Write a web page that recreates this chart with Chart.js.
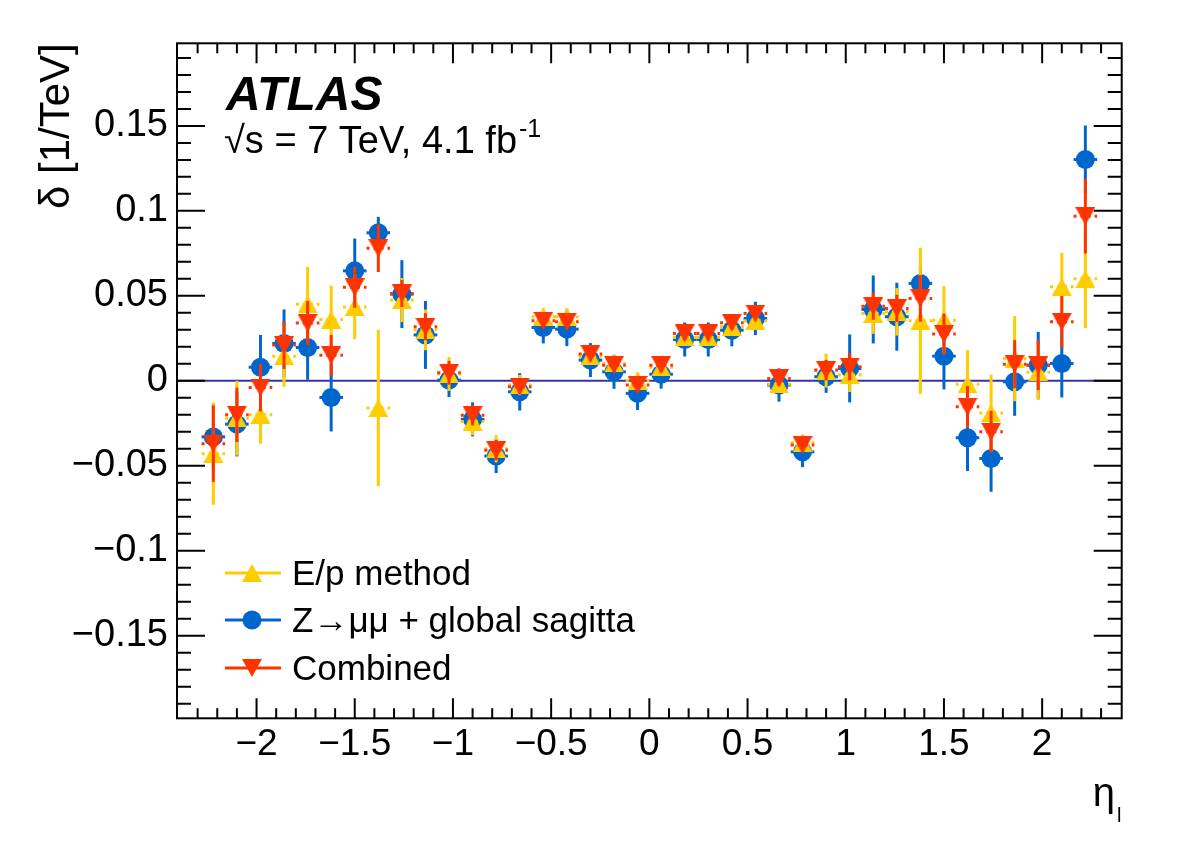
<!DOCTYPE html>
<html>
<head>
<meta charset="utf-8">
<script src="https://cdn.jsdelivr.net/npm/chart.js@4.4.1/dist/chart.umd.min.js"></script>
<style>
  html, body { margin: 0; padding: 0; background: #fff; }
  #wrap { width: 1182px; height: 846px; position: relative; }
</style>
</head>
<body>
<div id="wrap"><canvas id="c" width="1182" height="846"></canvas></div>
<script>
// ---------------- data ----------------
const etaCenters = [-2.22,-2.10,-1.98,-1.86,-1.74,-1.62,-1.50,-1.38,-1.26,-1.14,-1.02,-0.90,-0.78,-0.66,-0.54,-0.42,-0.30,-0.18,-0.06,
                     0.06,0.18,0.30,0.42,0.54,0.66,0.78,0.90,1.02,1.14,1.26,1.38,1.50,1.62,1.74,1.86,1.98,2.10,2.22];
const binHalfWidth = 0.06;

const epValues = [-0.043,-0.022,-0.020,0.0145,0.045,0.036,0.0435,-0.016,0.0475,0.030,0.004,-0.024,-0.040,-0.0025,0.0377,0.0377,0.0145,0.0102,0.000,
                  0.0079,0.0255,0.0255,0.0318,0.0353,-0.002,-0.0365,0.006,0.0034,0.0396,0.0406,0.0353,0.0357,-0.002,-0.019,0.013,0.005,0.0553,0.060];
const epErrors = [0.030,0.022,0.017,0.018,0.022,0.020,0.019,0.046,0.013,0.012,0.010,0.008,0.008,0.006,0.005,0.005,0.005,0.005,0.005,
                  0.005,0.005,0.005,0.005,0.005,0.005,0.005,0.010,0.010,0.012,0.014,0.043,0.020,0.020,0.0226,0.025,0.0163,0.020,0.029];

const zValues = [-0.033,-0.0255,0.008,0.022,0.0196,-0.0098,0.0647,0.0871,0.051,0.027,0.0004,-0.0227,-0.0443,-0.0065,0.0314,0.0304,0.0122,0.0053,-0.0074,
                 0.0039,0.0243,0.0243,0.0298,0.0367,-0.0025,-0.0418,0.0024,0.0073,0.042,0.0377,0.0573,0.0145,-0.0335,-0.0457,-0.0006,0.0092,0.0102,0.1302];
const zErrors = [0.020,0.019,0.019,0.020,0.019,0.020,0.019,0.0094,0.020,0.020,0.010,0.010,0.010,0.011,0.0094,0.010,0.010,0.010,0.0098,
                 0.0085,0.010,0.010,0.0095,0.0098,0.0098,0.009,0.0095,0.020,0.020,0.020,0.010,0.0196,0.0196,0.0196,0.020,0.0196,0.020,0.020];

const combValues = [-0.037,-0.020,-0.004,0.021,0.034,0.015,0.055,0.078,0.0514,0.0318,0.0047,-0.0202,-0.0408,-0.0035,0.0353,0.0347,0.0157,0.0092,-0.0025,
                    0.0092,0.0279,0.0279,0.0341,0.0396,0.0014,-0.0378,0.0063,0.0082,0.0439,0.0426,0.0485,0.0275,-0.0153,-0.030,0.0098,0.0092,0.0347,0.0969];
const combErrors = [0.0225,0.016,0.014,0.014,0.013,0.012,0.012,0.014,0.008,0.008,0.007,0.006,0.006,0.004,0.004,0.004,0.004,0.004,0.004,
                    0.004,0.004,0.004,0.004,0.004,0.004,0.004,0.006,0.008,0.008,0.008,0.0137,0.012,0.0123,0.0123,0.0142,0.0147,0.0152,0.022];

const xTickValues = [-2,-1.5,-1,-0.5,0,0.5,1,1.5,2];
const xTickLabels = ['\u22122','\u22121.5','\u22121','\u22120.5','0','0.5','1','1.5','2'];
const yTickValues = [-0.15,-0.1,-0.05,0,0.05,0.1,0.15];
const yTickLabels = ['\u22120.15','\u22120.1','\u22120.05','0','0.05','0.1','0.15'];

const seriesNames = ['E/p method', 'Z\u2192\u03bc\u03bc + global sagitta', 'Combined'];
const colYellow = '#ffcc00', colBlue = '#0066cc', colRed = '#ff3300';
const FONT = "'Liberation Sans', Arial, Helvetica, sans-serif";

// ---------------- marker images ----------------
function triCanvas(color, down, w, h) {
  const c = document.createElement('canvas'); c.width = w; c.height = h;
  const g = c.getContext('2d'); g.fillStyle = color; g.beginPath();
  if (!down) { g.moveTo(w / 2, 0); g.lineTo(w, h); g.lineTo(0, h); }
  else { g.moveTo(0, 0); g.lineTo(w, 0); g.lineTo(w / 2, h); }
  g.closePath(); g.fill(); return c;
}
const triUp = triCanvas(colYellow, false, 20, 18);
const triDown = triCanvas(colRed, true, 20, 18);

function pts(vals) { return etaCenters.map((x, i) => ({x: x, y: vals[i]})); }

const errInfo = [
  {errs: epErrors, color: colYellow, dash: [3, 4]},
  {errs: zErrors, color: colBlue, dash: []},
  {errs: combErrors, color: colRed, dash: [3, 4]}
];

// ---------------- plugins ----------------
const errorBars = {
  id: 'errorBars',
  beforeDatasetsDraw(chart) {
    const {ctx, chartArea, scales: {x, y}} = chart;
    ctx.save();
    ctx.strokeStyle = 'rgb(52,52,170)';
    ctx.lineWidth = 2;
    const py = y.getPixelForValue(0);
    ctx.beginPath(); ctx.moveTo(chartArea.left, py); ctx.lineTo(chartArea.right, py); ctx.stroke();
    ctx.restore();
  },
  beforeDatasetDraw(chart, args) {
    const idx = args.index;
    const info = errInfo[idx];
    const ds = chart.data.datasets[idx];
    const {ctx, scales: {x, y}} = chart;
    ctx.save();
    ctx.strokeStyle = info.color;
    ctx.lineWidth = 3;
    ctx.lineCap = 'butt';
    ds.data.forEach((p, i) => {
      const e = info.errs[i];
      const px = x.getPixelForValue(p.x);
      ctx.setLineDash([]);
      ctx.beginPath();
      ctx.moveTo(px, y.getPixelForValue(p.y + e));
      ctx.lineTo(px, y.getPixelForValue(p.y - e));
      ctx.stroke();
      ctx.setLineDash(info.dash);
      const py = y.getPixelForValue(p.y);
      ctx.beginPath();
      ctx.moveTo(x.getPixelForValue(p.x - binHalfWidth), py);
      ctx.lineTo(x.getPixelForValue(p.x + binHalfWidth), py);
      ctx.stroke();
    });
    ctx.restore();
  }
};

const frameAndText = {
  id: 'frameAndText',
  afterDraw(chart) {
    const {ctx, chartArea: a, scales: {x, y}} = chart;
    ctx.save();
    // frame
    ctx.strokeStyle = '#000'; ctx.lineWidth = 2; ctx.setLineDash([]);
    ctx.strokeRect(a.left, a.top, a.right - a.left, a.bottom - a.top);
    // ticks on all four sides
    const xMajLen = 20, xMinLen = 10, yMajLen = 28, yMinLen = 14;
    ctx.beginPath();
    for (let k = -24; k <= 24; k++) {
      const px = x.getPixelForValue(k / 10);
      if (px < a.left + 1 || px > a.right - 1) continue;
      const len = (k % 5 === 0) ? xMajLen : xMinLen;
      ctx.moveTo(px, a.bottom); ctx.lineTo(px, a.bottom - len);
      ctx.moveTo(px, a.top); ctx.lineTo(px, a.top + len);
    }
    for (let k = -19; k <= 19; k++) {
      const py = y.getPixelForValue(k / 100);
      if (py < a.top + 1 || py > a.bottom - 1) continue;
      const len = (k % 5 === 0) ? yMajLen : yMinLen;
      ctx.moveTo(a.left, py); ctx.lineTo(a.left + len, py);
      ctx.moveTo(a.right, py); ctx.lineTo(a.right - len, py);
    }
    ctx.stroke();

    ctx.fillStyle = '#000';
    // ATLAS label
    ctx.font = 'italic bold 48px ' + FONT;
    ctx.textAlign = 'left'; ctx.textBaseline = 'alphabetic';
    ctx.fillText('ATLAS', 226, 110);
    // energy / lumi
    ctx.font = '38px ' + FONT;
    const t = '\u221as = 7 TeV, 4.1 fb';
    ctx.fillText(t, 224, 153);
    const w = ctx.measureText(t).width;
    ctx.font = '25px ' + FONT;
    ctx.fillText('-1', 224 + w + 2, 137);

    // y-axis title
    ctx.save();
    ctx.translate(69, a.top);
    ctx.rotate(-Math.PI / 2);
    ctx.font = '42px ' + FONT;
    ctx.textAlign = 'right';
    ctx.fillText('\u03b4 [1/TeV]', 0, 0);
    ctx.restore();

    // x-axis title
    ctx.font = '40px ' + FONT;
    ctx.textAlign = 'right';
    ctx.fillText('\u03b7', 1115, 806);
    ctx.font = '20px ' + FONT;
    ctx.textAlign = 'left';
    ctx.fillText('l', 1117, 822);

    // legend
    const rows = [573, 620, 668];
    const cols = [colYellow, colBlue, colRed];
    rows.forEach((ry, i) => {
      ctx.strokeStyle = cols[i]; ctx.lineWidth = 3;
      ctx.beginPath(); ctx.moveTo(225, ry); ctx.lineTo(281, ry); ctx.stroke();
      if (i === 0) ctx.drawImage(triUp, 252 - 10, ry - 9);
      else if (i === 2) ctx.drawImage(triDown, 252 - 10, ry - 9);
      else { ctx.fillStyle = colBlue; ctx.beginPath(); ctx.arc(252, ry, 9.5, 0, Math.PI * 2); ctx.fill(); }
      ctx.fillStyle = '#000';
      ctx.font = '35px ' + FONT;
      ctx.textAlign = 'left'; ctx.textBaseline = 'alphabetic';
      ctx.fillText(seriesNames[i], 292, ry + 12);
    });
    ctx.restore();
  }
};

// ---------------- chart ----------------
const chart = new Chart(document.getElementById('c'), {
  type: 'scatter',
  data: {
    datasets: [
      {label: seriesNames[0], data: pts(epValues), pointStyle: triUp, pointRadius: 10, backgroundColor: colYellow, borderColor: colYellow, borderWidth: 0, order: 1},
      {label: seriesNames[1], data: pts(zValues), pointStyle: 'circle', pointRadius: 9.5, backgroundColor: colBlue, borderColor: colBlue, borderWidth: 0, pointBorderWidth: 0, order: 2},
      {label: seriesNames[2], data: pts(combValues), pointStyle: triDown, pointRadius: 10, backgroundColor: colRed, borderColor: colRed, borderWidth: 0, order: 0}
    ]
  },
  options: {
    responsive: false,
    animation: false,
    events: [],
    layout: {padding: {left: 0, right: 60.3, top: 43.3, bottom: 0}},
    plugins: {legend: {display: false}, tooltip: {enabled: false}},
    scales: {
      x: {
        type: 'linear', min: -2.405, max: 2.405,
        grid: {display: false, drawTicks: false}, border: {display: false},
        afterBuildTicks: s => { s.ticks = xTickValues.map(v => ({value: v})); },
        afterFit: s => { s.height = 846 - 718.3; },
        ticks: {
          color: '#000', font: {family: FONT, size: 37}, padding: 4, maxRotation: 0, autoSkip: false,
          callback: v => { const i = xTickValues.indexOf(v); return i >= 0 ? xTickLabels[i] : ''; }
        }
      },
      y: {
        type: 'linear', min: -0.1986, max: 0.1986,
        grid: {display: false, drawTicks: false}, border: {display: false},
        afterBuildTicks: s => { s.ticks = yTickValues.map(v => ({value: v})); },
        afterFit: s => { s.width = 177; },
        ticks: {
          color: '#000', font: {family: FONT, size: 38}, padding: 9, autoSkip: false,
          callback: v => { const i = yTickValues.findIndex(t => Math.abs(t - v) < 1e-9); return i >= 0 ? yTickLabels[i] : ''; }
        }
      }
    }
  },
  plugins: [errorBars, frameAndText]
});
</script>
</body>
</html>
